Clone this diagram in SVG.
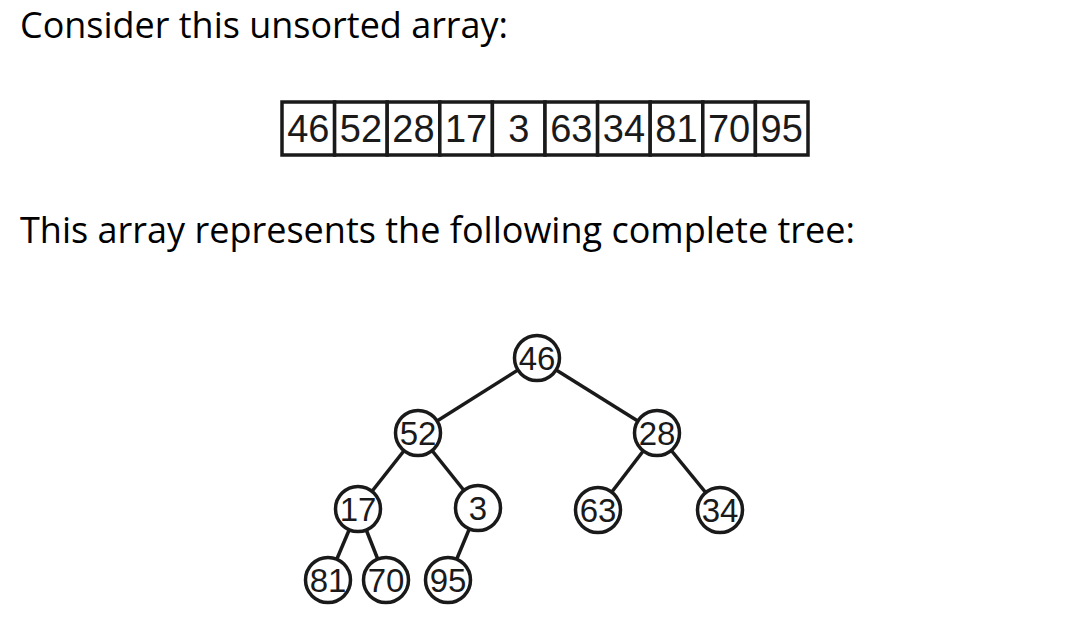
<svg xmlns="http://www.w3.org/2000/svg" width="1089" height="639" viewBox="0 0 1089 639">
<style>
.h{font-family:"Open Sans","Noto Sans",sans-serif;font-size:36px;fill:#000}
.cell{fill:#fff;stroke:#1a1a1a;stroke-width:3.5}
.num{font-family:"Liberation Sans",Arial,sans-serif;font-size:38px;fill:#1a1a1a;text-anchor:middle}
.node circle{fill:#fff;stroke:#1a1a1a;stroke-width:3.5}
.node text{font-family:"Liberation Sans",Arial,sans-serif;font-size:33px;fill:#1a1a1a;text-anchor:middle}
.edges line{stroke:#1a1a1a;stroke-width:3.5}
</style>
<rect width="1089" height="639" fill="#fff"/>
<text class="h" x="20" y="38" textLength="488" lengthAdjust="spacingAndGlyphs">Consider this unsorted array:</text>
<text class="h" x="20" y="243" textLength="835" lengthAdjust="spacingAndGlyphs">This array represents the following complete tree:</text>
<g id="array">
<rect class="cell" x="282" y="102" width="52.6" height="53"/>
<rect class="cell" x="334.6" y="102" width="52.6" height="53"/>
<rect class="cell" x="387.2" y="102" width="52.6" height="53"/>
<rect class="cell" x="439.8" y="102" width="52.6" height="53"/>
<rect class="cell" x="492.4" y="102" width="52.6" height="53"/>
<rect class="cell" x="545" y="102" width="52.6" height="53"/>
<rect class="cell" x="597.6" y="102" width="52.6" height="53"/>
<rect class="cell" x="650.2" y="102" width="52.6" height="53"/>
<rect class="cell" x="702.8" y="102" width="52.6" height="53"/>
<rect class="cell" x="755.4" y="102" width="52.6" height="53"/>
<text class="num" x="308.3" y="142">46</text>
<text class="num" x="360.9" y="142">52</text>
<text class="num" x="413.5" y="142">28</text>
<text class="num" x="466.1" y="142">17</text>
<text class="num" x="518.7" y="142">3</text>
<text class="num" x="571.3" y="142">63</text>
<text class="num" x="623.9" y="142">34</text>
<text class="num" x="676.5" y="142">81</text>
<text class="num" x="729.1" y="142">70</text>
<text class="num" x="781.7" y="142">95</text>
</g>
<g class="edges" id="edges">
<line x1="537" y1="358" x2="418" y2="433"/>
<line x1="537" y1="358" x2="657" y2="433"/>
<line x1="418" y1="433" x2="358" y2="509"/>
<line x1="418" y1="433" x2="478" y2="508"/>
<line x1="657" y1="433" x2="598" y2="510"/>
<line x1="657" y1="433" x2="720" y2="510"/>
<line x1="358" y1="509" x2="328" y2="580"/>
<line x1="358" y1="509" x2="386" y2="580"/>
<line x1="478" y1="508" x2="448" y2="580"/>
</g>
<g class="node" id="n46"><circle cx="537" cy="358" r="22.5"/><text x="537" y="370">46</text></g>
<g class="node" id="n52"><circle cx="418" cy="433" r="22.5"/><text x="418" y="445">52</text></g>
<g class="node" id="n28"><circle cx="657" cy="433" r="22.5"/><text x="657" y="445">28</text></g>
<g class="node" id="n17"><circle cx="358" cy="509" r="22.5"/><text x="358" y="521">17</text></g>
<g class="node" id="n3"><circle cx="478" cy="508" r="22.5"/><text x="478" y="520">3</text></g>
<g class="node" id="n63"><circle cx="598" cy="510" r="22.5"/><text x="598" y="522">63</text></g>
<g class="node" id="n34"><circle cx="720" cy="510" r="22.5"/><text x="720" y="522">34</text></g>
<g class="node" id="n81"><circle cx="328" cy="580" r="22.5"/><text x="328" y="592">81</text></g>
<g class="node" id="n70"><circle cx="386" cy="580" r="22.5"/><text x="386" y="592">70</text></g>
<g class="node" id="n95"><circle cx="448" cy="580" r="22.5"/><text x="448" y="592">95</text></g>
</svg>
